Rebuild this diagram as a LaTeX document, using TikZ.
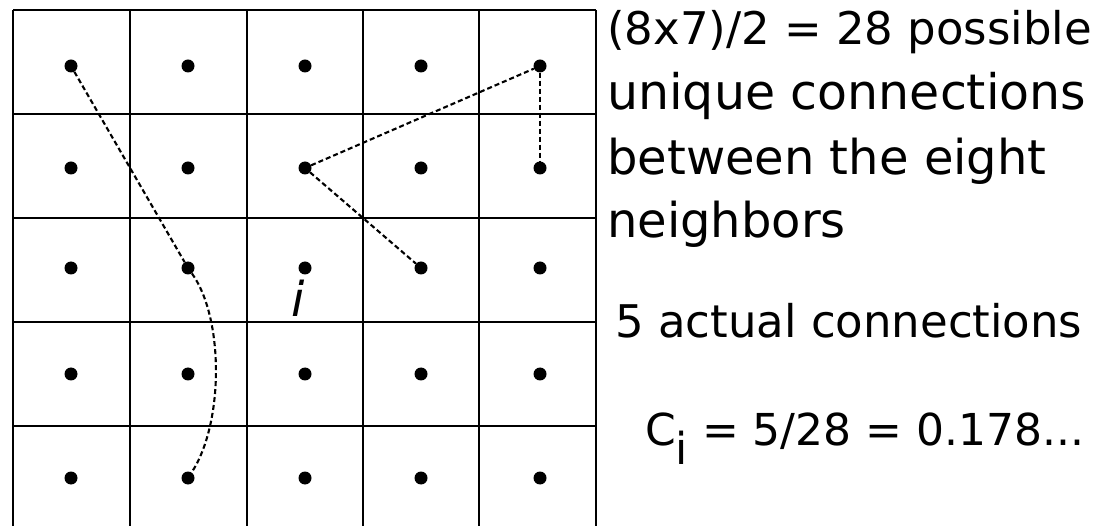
\documentclass[tikz,border=0pt]{standalone}
\usepackage{fontspec}
\setmainfont{DejaVu Sans}
\begin{document}
\begin{tikzpicture}[x=1pt,y=-1pt,
  gridline/.style={line width=2pt,black},
  dot/.style={circle,fill=black,inner sep=0pt,minimum size=13pt},
  link/.style={line width=2.1pt,dash pattern=on 5pt off 3pt,black},
  txt/.style={anchor=base west,inner sep=0pt}]
\useasboundingbox (0,0) rectangle (1119,526);
% grid
\foreach \x in {13,130,247,363,479,596}
  \draw[gridline] (\x,10) -- (\x,526);
\foreach \y in {10,114,218,322,426}
  \draw[gridline] (13,\y) -- (596,\y);
% dots
\foreach \c/\x in {1/71,2/188,3/305,4/421,5/540}
  \foreach \r/\y in {1/66,2/168,3/268,4/374,5/478}
    \node[dot] (d\r\c) at (\x,\y) {};
% connections
\draw[link] (d11) -- (d32);
\draw[link] (d32) .. controls +(36,50) and +(36,-55) .. (d52);
\draw[link] (d23) -- (d15);
\draw[link] (d15) -- (d25);
\draw[link] (d23) -- (d34);
% label i
\node[txt] (ilab) at (291,317) {\fontsize{48}{48}\selectfont\itshape i};
% texts
\node[txt] (t1) at (607,45) {\fontsize{45}{45}\selectfont (8x7)/2 = 28 possible};
\node[txt] (t2) at (607,110) {\fontsize{49}{49}\selectfont unique connections};
\node[txt] (t3) at (607,175) {\fontsize{48}{48}\selectfont between the eight};
\node[txt] (t4) at (607,238) {\fontsize{48}{48}\selectfont neighbors};
\node[txt] (t5) at (615,338) {\fontsize{45}{45}\selectfont 5 actual connections};
\node[txt] (t6) at (645,445) {\fontsize{44}{44}\selectfont C\raisebox{-19pt}{i} = 5/28 = 0.178...};
\end{tikzpicture}
\end{document}
